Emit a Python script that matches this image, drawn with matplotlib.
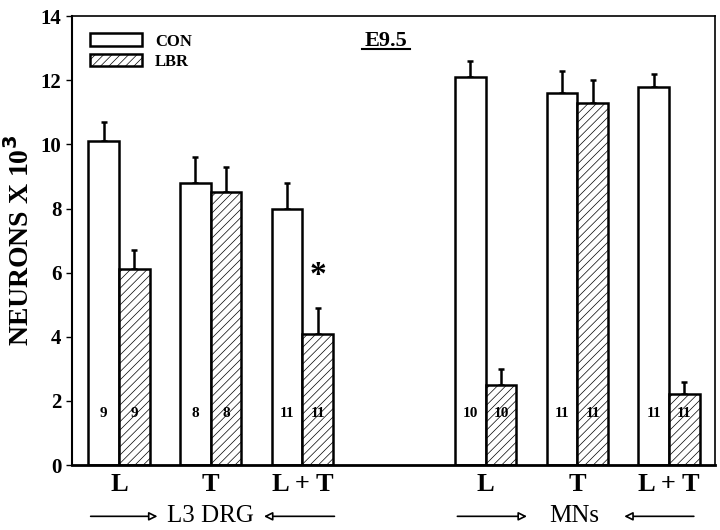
import numpy as np
import matplotlib.pyplot as plt

plt.rcParams['font.family'] = ['Liberation Serif', 'DejaVu Serif']
plt.rcParams['font.weight'] = 'bold'
plt.rcParams['axes.labelweight'] = 'bold'
plt.rcParams['hatch.linewidth'] = 0.5

groups = ['L', 'T', 'L + T', 'L', 'T', 'L + T']
group_pos = [0, 1, 2, 4, 5, 6]
con_vals = [10.1, 8.8, 8.0, 12.1, 11.6, 11.8]
con_err = [0.6, 0.8, 0.8, 0.5, 0.7, 0.4]
lbr_vals = [6.1, 8.5, 4.1, 2.5, 11.3, 2.2]
lbr_err = [0.6, 0.8, 0.8, 0.5, 0.7, 0.4]
n_con = [9, 8, 11, 10, 11, 11]
n_lbr = [9, 8, 11, 10, 11, 11]

fig = plt.figure(figsize=(7.2, 5.3), dpi=100)
ax = fig.add_axes([0.1, 0.1226, 0.893, 0.847])

x = np.array(group_pos, dtype=float)
w = 0.335
xc = x - w / 2
xl = x + w / 2

ax.bar(xc, con_vals, w, color='white', edgecolor='black', linewidth=1.8, label='CON', zorder=2)
ax.bar(xl, lbr_vals, w, color='white', edgecolor='black', linewidth=1.8, hatch='////', label='LBR', zorder=2)
ax.errorbar(xc, con_vals, yerr=[np.zeros(6), con_err], fmt='none', ecolor='black', elinewidth=1.8, capsize=2, capthick=1.8, zorder=1)
ax.errorbar(xl, lbr_vals, yerr=[np.zeros(6), lbr_err], fmt='none', ecolor='black', elinewidth=1.8, capsize=2, capthick=1.8, zorder=1)

for i in range(6):
    ax.text(xc[i], 1.6, str(n_con[i]), ha='center', va='center', fontsize=11, zorder=3)
    ax.text(xl[i], 1.6, str(n_lbr[i]), ha='center', va='center', fontsize=11, zorder=3)

ax.text(xl[2], 5.9, '*', ha='center', va='center', fontsize=24)

ax.set_xlim(-0.513, 6.5)
ax.set_ylim(0, 14)
ax.set_yticks(range(0, 15, 2))
ax.tick_params(axis='y', labelsize=15, length=4, width=1)
ax.set_xticks(x)
ax.set_xticklabels(groups, fontsize=19)
ax.tick_params(axis='x', length=0, pad=6)
for s in ax.spines.values():
    s.set_linewidth(1.2)
ax.spines['bottom'].set_linewidth(2)
ax.spines['left'].set_linewidth(1.5)

ax.set_ylabel('NEURONS X 10$^{\\mathbf{3}}$', fontsize=20, labelpad=4)

leg = ax.legend(loc='upper left', bbox_to_anchor=(0.005, 0.995), frameon=False, fontsize=12,
                handlelength=3.1, handleheight=0.8, labelspacing=0.25, handletextpad=0.8)

ax.text(0.488, 0.945, 'E9.5', transform=ax.transAxes, ha='center', va='center', fontsize=16)
ax.plot([0.451, 0.526], [0.926, 0.926], transform=ax.transAxes, color='black', lw=1.5, clip_on=False)

# bracket arrows under the group labels
ya = -1.6
arrow = dict(arrowstyle='-|>,head_length=0.5,head_width=0.25', edgecolor='black', facecolor='white', lw=1.2)
for a0, a1, t0, t1, label, lx in [(-0.34, 0.45, 2.38, 1.55, 'L3 DRG', 1.0),
                                  (3.66, 4.48, 6.3, 5.48, 'MNs', 4.97)]:
    ax.annotate('', xy=(a1, ya), xytext=(a0, ya), xycoords='data', arrowprops=arrow, annotation_clip=False)
    ax.annotate('', xy=(t1, ya), xytext=(t0, ya), xycoords='data', arrowprops=arrow, annotation_clip=False)
    ax.text(lx, ya, label, ha='center', va='center', fontsize=18, fontweight='normal', clip_on=False)

fig.savefig('out.png', dpi=100)
